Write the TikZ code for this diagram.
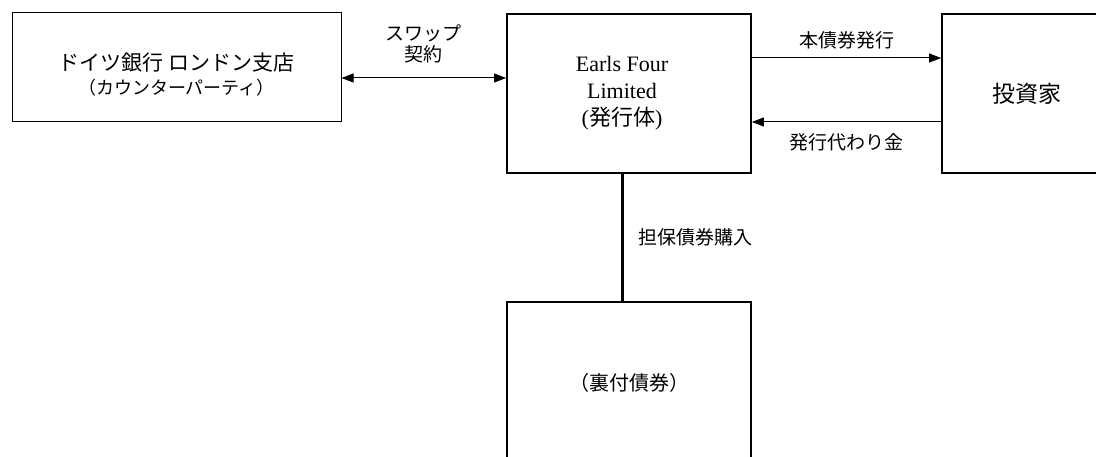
\documentclass[tikz,border=0pt]{standalone}
\usepackage{fontspec}
\setmainfont{Liberation Serif}
\newfontfamily\jp{Noto Sans CJK JP}
\usetikzlibrary{arrows.meta}
\begin{document}
\begin{tikzpicture}[x=1pt,y=-1pt,
        box/.style={draw, line width=1.8pt, inner sep=0pt},
        pfeil/.style={line width=1pt, -{Triangle[length=12pt,width=9pt]}},
        lbl/.style={font=\jp\fontsize{19}{21}\selectfont}]
        \def\breite{244}
        \clip (0,0) rectangle (1096,457);
        % Kaesten
        \node[box, line width=1pt, minimum width=329pt, minimum height=109pt,
            label={[align=center, yshift=-7pt]center:{\jp\fontsize{21}{24}\selectfont ドイツ銀行 ロンドン支店}\\[5pt]{\jp\fontsize{18}{22}\selectfont （カウンターパーティ）}}] (bank) at (176.5,67.5) {};
        \node[box, minimum width=\breite pt, minimum height=159pt,
            label={[align=center, xshift=-7pt, font=\fontsize{22}{27}\selectfont]center:Earls Four\\Limited\\({\jp 発行体})}] (issuer) at (629,93.5) {};
        \node[box, minimum width=170pt, minimum height=159pt,
            font=\jp\fontsize{23}{27}\selectfont] (investor) at (1027,93.5) {投資家};
        \node[box, minimum width=\breite pt, minimum height=162pt,
            font=\jp\fontsize{20}{24}\selectfont] (bond) at (629,383) {（裏付債券）};
        % Swap
        \draw[line width=1pt, {Triangle[length=12pt,width=9pt]}-{Triangle[length=12pt,width=9pt]}]
            ([yshift=-10.5pt]bank.east) -- ([yshift=-10.5pt]bank.east -| issuer.west)
            node[midway, above=11pt, align=center, lbl] {スワップ\\契約};
        % Emission
        \draw[pfeil] ([yshift=35.5pt]issuer.east) -- ([yshift=35.5pt]issuer.east -| investor.west)
            node[midway, above=5pt, lbl] {本債券発行};
        \draw[pfeil] ([yshift=-28.5pt]investor.west) -- ([yshift=-28.5pt]investor.west -| issuer.east)
            node[midway, below=8pt, lbl] {発行代わり金};
        % Sicherheiten
        \draw[line width=3pt] ([xshift=-7pt]issuer.south) -- ([xshift=-7pt]issuer.south |- bond.north)
            node[midway, right=12pt, lbl] {担保債券購入};
\end{tikzpicture}
\end{document}
